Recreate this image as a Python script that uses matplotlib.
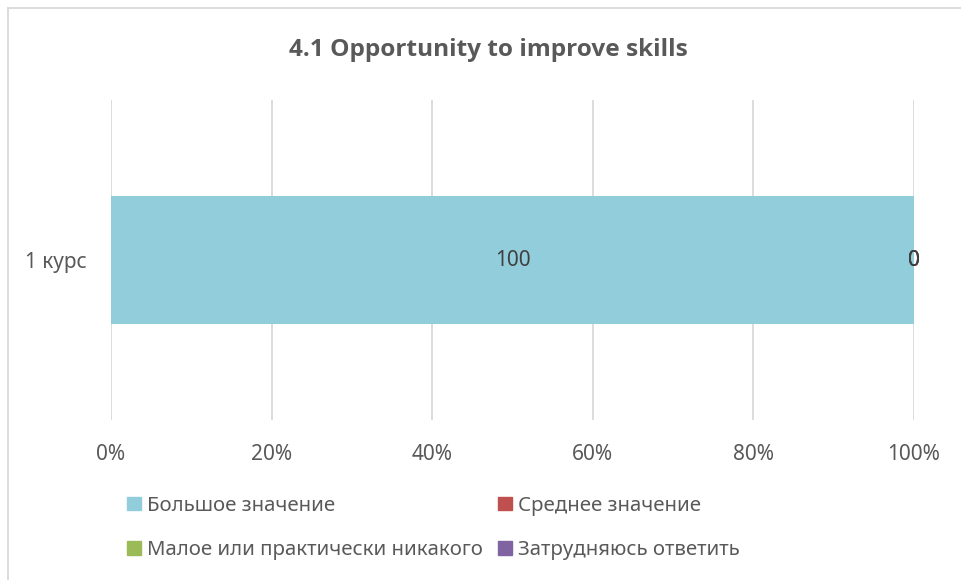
import matplotlib
matplotlib.use("Agg")
from matplotlib import pyplot as plt
from matplotlib.patches import Patch
from matplotlib.lines import Line2D

# данные
categories = ["1 курс"]
series_names = ["Большое значение", "Среднее значение",
                "Малое или практически никакого", "Затрудняюсь ответить"]
values = [[100], [0], [0], [0]]
colors = ["#92CDDC", "#C0504D", "#9BBB59", "#8064A2"]
xticks = [0, 20, 40, 60, 80, 100]
xtick_labels = ["0%", "20%", "40%", "60%", "80%", "100%"]

plt.rcParams['font.family'] = ['Noto Sans', 'DejaVu Sans']
txt_color = "#595959"

fig = plt.figure(figsize=(9.62, 5.8), dpi=100)
ax = fig.add_axes([111 / 962, 1 - 420 / 580, 803 / 962, 320 / 580])

# рамка диаграммы (видны только верх и левый край)
x0, y0 = 8 / 962, 1 - 8 / 580
fig.lines.append(Line2D([x0, 1.0], [y0, y0], transform=fig.transFigure,
                        color="#D9D9D9", linewidth=1.3))
fig.lines.append(Line2D([x0, x0], [y0, 0.0], transform=fig.transFigure,
                        color="#D9D9D9", linewidth=1.3))

total = sum(v[0] for v in values)
left = 0
for i, name in enumerate(series_names):
    w = values[i][0] / total * 100
    ax.barh(0, w, left=left, height=0.4, color=colors[i], label=name, zorder=2)
    ax.text(left + w / 2, 0, str(values[i][0]), ha="center", va="center",
            fontsize=15, color="#404040", zorder=3)
    left += w

ax.set_xlim(0, 100)
ax.set_ylim(-0.5, 0.5)
ax.set_xticks(xticks)
ax.set_xticklabels(xtick_labels, fontsize=15, color=txt_color)
ax.set_yticks([0])
ax.set_yticklabels(categories, fontsize=15, color=txt_color)
ax.tick_params(length=0, pad=17.5)
ax.grid(axis="x", color="#D9D9D9", linewidth=1.3, zorder=0)
for s in ax.spines.values():
    s.set_visible(False)

fig.text(488 / 962, 1 - 50 / 580, "4.1 Opportunity to improve skills", ha="center", va="center",
         fontsize=17.6, fontweight="bold", color=txt_color,
         family=['Open Sans', 'DejaVu Sans'])

# легенда: две колонки, заполняются по строкам
handles = [Patch(color=c) for c in colors]
for col, lx in enumerate([127, 498]):
    idx = [col, col + 2]
    fig.legend([handles[k] for k in idx], [series_names[k] for k in idx],
               loc="center left", bbox_to_anchor=(lx / 962, 1 - 528 / 580),
               frameon=False, fontsize=14.7, borderpad=0, borderaxespad=0,
               handlelength=0.7, handleheight=0.65, handletextpad=0.3,
               labelspacing=1.2, labelcolor=txt_color)

fig.savefig("out.png", dpi=100)
